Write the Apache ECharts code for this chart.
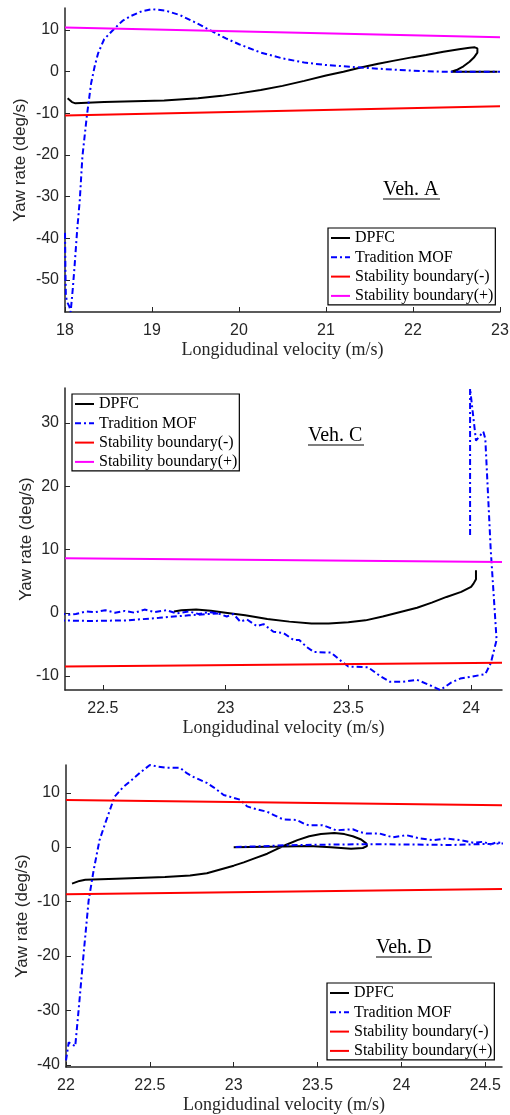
<!DOCTYPE html>
<html>
<head>
<meta charset="utf-8">
<script src="https://cdn.jsdelivr.net/npm/echarts@6/dist/echarts.min.js"></script>
<style>
html, body { margin: 0; padding: 0; background: #fff; }
#main { width: 510px; height: 1115px; }
</style>
</head>
<body>
<div id="main"></div>
<script>
// ---- Veh. A ----
var xRangeA = [18, 23];
var yRangeA = [-57.7, 15.3];
var xTicksA = [18, 19, 20, 21, 22, 23];
var yTicksA = [-50, -40, -30, -20, -10, 0, 10];
var dpfcA = [[18.03,-6.4],[18.08,-7.3],[18.12,-7.6],[18.45,-7.3],[19.14,-6.9],[19.53,-6.4],[19.8,-5.8],[20.0,-5.2],[20.25,-4.4],[20.5,-3.4],[20.75,-2.2],[21.0,-0.9],[21.2,0.0],[21.4,1.0],[21.6,1.9],[21.77,2.6],[22.0,3.5],[22.15,4.0],[22.35,4.8],[22.53,5.4],[22.65,5.75],[22.71,5.85],[22.74,5.6],[22.75,5.2],[22.74,4.6],[22.7,3.4],[22.65,2.4],[22.58,1.3],[22.5,0.4],[22.44,0.0],[22.97,0.0]];
var mofA = [[18.0,-38.7],[18.005,-48],[18.01,-54],[18.03,-55.5],[18.05,-56.4],[18.065,-57.7],[18.09,-52],[18.11,-46.7],[18.14,-38],[18.17,-30.8],[18.2,-20.4],[18.25,-10.8],[18.3,-2.8],[18.34,1.2],[18.38,4.4],[18.45,7.8],[18.57,10.4],[18.66,12.2],[18.76,13.4],[18.88,14.5],[19.0,15.0],[19.15,14.7],[19.32,13.6],[19.5,11.8],[19.7,9.6],[19.85,8.0],[20.0,6.6],[20.25,4.6],[20.5,3.2],[20.75,2.2],[21.0,1.6],[21.4,1.0],[21.77,0.5],[22.0,0.25],[22.34,0.0],[23.0,0.0]];
var lowA = [[18, -10.5], [23, -8.3]];
var highA = [[18, 10.6], [23, 8.3]];

// ---- Veh. C ----
var xRangeC = [22.346, 24.126];
var yRangeC = [-12.2, 35.5];
var xTicksC = [22.5, 23, 23.5, 24];
var yTicksC = [-10, 0, 10, 20, 30];
var dpfcC = [[24.02,6.7],[24.02,5.3],[24.01,4.6],[24.0,4.1],[23.96,3.3],[23.9,2.5],[23.84,1.6],[23.78,0.8],[23.72,0.2],[23.64,-0.6],[23.57,-1.2],[23.5,-1.5],[23.42,-1.7],[23.35,-1.7],[23.26,-1.4],[23.17,-1.0],[23.08,-0.4],[23.0,0.0],[22.94,0.3],[22.88,0.5],[22.82,0.4],[22.79,0.2]];
var mofC = [[23.996,12.3],[23.996,35.4],[24.02,27.2],[24.05,28.6],[24.058,27.5],[24.08,10.0],[24.104,-4.3],[24.08,-8.0],[24.058,-9.7],[24.0,-10.1],[23.956,-10.4],[23.92,-11.0],[23.875,-12.2],[23.83,-11.4],[23.78,-10.6],[23.72,-10.9],[23.67,-10.9],[23.63,-10.0],[23.58,-8.6],[23.5,-8.5],[23.47,-7.6],[23.43,-6.3],[23.36,-6.2],[23.33,-5.4],[23.3,-4.3],[23.277,-4.3],[23.236,-3.2],[23.195,-3.0],[23.155,-1.8],[23.127,-2.1],[23.087,-1.05],[23.06,-1.4],[23.032,-0.2],[23.005,-0.6],[22.97,-0.1],[22.93,0.1],[22.89,-0.2],[22.85,0.2],[22.8,-0.1],[22.76,0.4],[22.71,0.1],[22.67,0.5],[22.63,0.0],[22.59,0.3],[22.55,0.0],[22.51,0.4],[22.47,0.1],[22.43,0.2],[22.39,-0.2],[22.36,-0.3],[22.32,-0.1],[22.32,-1.2],[22.45,-1.3],[22.6,-1.2],[22.73,-0.8],[22.85,-0.4],[22.97,-0.1]];
var lowC = [[22.346, -8.5], [24.126, -7.9]];
var highC = [[22.346, 8.6], [24.126, 8.0]];

// ---- Veh. D ----
var xRangeD = [22, 24.6];
var yRangeD = [-40.4, 15.1];
var xTicksD = [22, 22.5, 23, 23.5, 24, 24.5];
var yTicksD = [-40, -30, -20, -10, 0, 10];
var dpfcD = [[22.036,-6.7],[22.08,-6.2],[22.115,-6.0],[22.3,-5.8],[22.59,-5.5],[22.74,-5.2],[22.84,-4.8],[22.92,-4.1],[23.0,-3.4],[23.06,-2.8],[23.12,-2.1],[23.2,-1.2],[23.26,-0.3],[23.31,0.4],[23.38,1.3],[23.45,2.0],[23.52,2.4],[23.6,2.6],[23.66,2.4],[23.71,2.0],[23.76,1.4],[23.79,0.7],[23.795,0.2],[23.77,-0.15],[23.7,-0.3],[23.58,0.0],[23.45,0.2],[23.3,0.1],[23.0,0.0]];
var mofD = [[22.0,-39.2],[22.016,-35.9],[22.036,-36.2],[22.055,-36.6],[22.075,-30.0],[22.105,-19.6],[22.135,-9.8],[22.165,-4.2],[22.2,1.3],[22.234,4.4],[22.29,9.3],[22.34,11.0],[22.39,12.3],[22.45,13.9],[22.5,15.1],[22.55,14.8],[22.6,14.6],[22.68,14.6],[22.72,13.6],[22.76,12.9],[22.84,11.8],[22.88,11.0],[22.94,9.6],[23.04,8.7],[23.08,7.5],[23.12,7.1],[23.2,6.5],[23.24,5.9],[23.28,5.3],[23.3,5.1],[23.375,5.0],[23.42,4.3],[23.45,4.0],[23.53,4.05],[23.57,3.6],[23.61,3.1],[23.71,3.3],[23.75,2.8],[23.79,2.5],[23.87,2.5],[23.95,1.8],[24.03,2.2],[24.11,1.6],[24.19,1.3],[24.27,1.6],[24.35,1.3],[24.43,0.8],[24.49,1.0],[24.53,0.5],[24.57,0.9],[24.62,0.7],[24.62,0.6],[24.3,0.4],[24.0,0.5],[23.79,0.55],[23.5,0.45],[23.31,0.35],[23.15,0.15],[23.01,0.05]];
var lowD = [[22, -8.65], [24.6, -7.7]];
var highD = [[22, 8.65], [24.6, 7.7]];

var legendNames = ['DPFC', 'Tradition MOF', 'Stability boundary(-)', 'Stability boundary(+)'];

var SANS = "'Liberation Sans', Arial, sans-serif";
var SERIF = "'Liberation Serif', 'Times New Roman', serif";
var AXIS = '#262626';
var BLUE = '#0000ff', RED = '#ff0000', MAG = '#ff00ff';
var DASHDOT = [6, 3, 2, 3];

var grids = [
  { left: 65, top: 8, width: 435, height: 304 },
  { left: 65, top: 388, width: 437, height: 302 },
  { left: 66, top: 765, width: 436, height: 302 }
];
grids.forEach(function (g) { g.containLabel = false; g.outerBoundsMode = 'none'; });

function xAxis(idx, range, ticks) {
  return {
    type: 'value', gridIndex: idx, min: range[0], max: range[1],
    name: 'Longidudinal velocity (m/s)', nameLocation: 'middle', nameGap: 29, nameMoveOverlap: false,
    nameTextStyle: { fontFamily: SERIF, fontSize: 18, color: AXIS },
    axisLine: { onZero: false, lineStyle: { color: AXIS, width: 1.5 } },
    axisTick: { inside: true, length: 5, customValues: ticks, lineStyle: { color: AXIS } },
    axisLabel: { customValues: ticks, margin: 11, fontFamily: SANS, fontSize: 16, color: AXIS },
    splitLine: { show: false }
  };
}
function yAxis(idx, range, ticks, gap) {
  return {
    type: 'value', gridIndex: idx, min: range[0], max: range[1],
    name: 'Yaw rate (deg/s)', nameLocation: 'middle', nameGap: gap, nameMoveOverlap: false,
    nameTextStyle: { fontFamily: SANS, fontSize: 17, color: AXIS },
    axisLine: { show: true, onZero: false, lineStyle: { color: AXIS, width: 1.5 } },
    axisTick: { show: true, inside: true, length: 5, customValues: ticks, lineStyle: { color: AXIS } },
    axisLabel: { customValues: ticks, margin: 6, fontFamily: SANS, fontSize: 16, color: AXIS },
    splitLine: { show: false }
  };
}
function line(key, label, idx, data, color, dashed) {
  return {
    name: key + '|' + label, type: 'line', xAxisIndex: idx, yAxisIndex: idx,
    data: data, symbol: 'none', showSymbol: false, animation: false,
    lineStyle: { color: color, width: 2, type: dashed ? DASHDOT : 'solid' },
    itemStyle: { color: color }, emphasis: { disabled: true }
  };
}
function legend(key, left, top) {
  return {
    orient: 'vertical', left: left, top: top, selectedMode: false,
    data: legendNames.map(function (n) { return key + '|' + n; }),
    formatter: function (n) { return n.split('|')[1]; },
    itemWidth: 19, itemHeight: 14, itemGap: 3.3,
    padding: [2, 2, 1, 2],
    itemStyle: { opacity: 0 },
    backgroundColor: '#fff', borderColor: '#000', borderWidth: 1.2,
    textStyle: { fontFamily: SERIF, fontSize: 16, lineHeight: 16, color: '#000' }
  };
}
function vehLabel(text, x, y, w) {
  return [
    { type: 'text', x: x, y: y, style: { text: text, font: '20px ' + SERIF, fill: '#000', verticalAlign: 'middle' } },
    { type: 'line', shape: { x1: x, y1: y + 9, x2: x + w, y2: y + 9 }, style: { stroke: '#000', lineWidth: 1.2 } }
  ];
}

var series = [
  line('A', legendNames[0], 0, dpfcA, '#000', false),
  line('A', legendNames[1], 0, mofA, BLUE, true),
  line('A', legendNames[2], 0, lowA, RED, false),
  line('A', legendNames[3], 0, highA, MAG, false),
  line('C', legendNames[0], 1, dpfcC, '#000', false),
  line('C', legendNames[1], 1, mofC, BLUE, true),
  line('C', legendNames[2], 1, lowC, RED, false),
  line('C', legendNames[3], 1, highC, MAG, false),
  line('D', legendNames[0], 2, dpfcD, '#000', false),
  line('D', legendNames[1], 2, mofD, BLUE, true),
  line('D', legendNames[2], 2, lowD, RED, false),
  line('D', legendNames[3], 2, highD, RED, false)
];

var myChart = echarts.init(document.getElementById('main'));
var option = {
  backgroundColor: '#fff',
  animation: false,
  grid: grids,
  xAxis: [xAxis(0, xRangeA, xTicksA), xAxis(1, xRangeC, xTicksC), xAxis(2, xRangeD, xTicksD)],
  yAxis: [yAxis(0, yRangeA, yTicksA, 36), yAxis(1, yRangeC, yTicksC, 30), yAxis(2, yRangeD, yTicksD, 35)],
  legend: [legend('A', 328, 228), legend('C', 72, 394), legend('D', 327, 983)],
  series: series,
  graphic: [].concat(vehLabel('Veh. A', 383, 190, 57), vehLabel('Veh. C', 308, 436, 56), vehLabel('Veh. D', 376, 948, 56))
};
myChart.setOption(option);
</script>
</body>
</html>
